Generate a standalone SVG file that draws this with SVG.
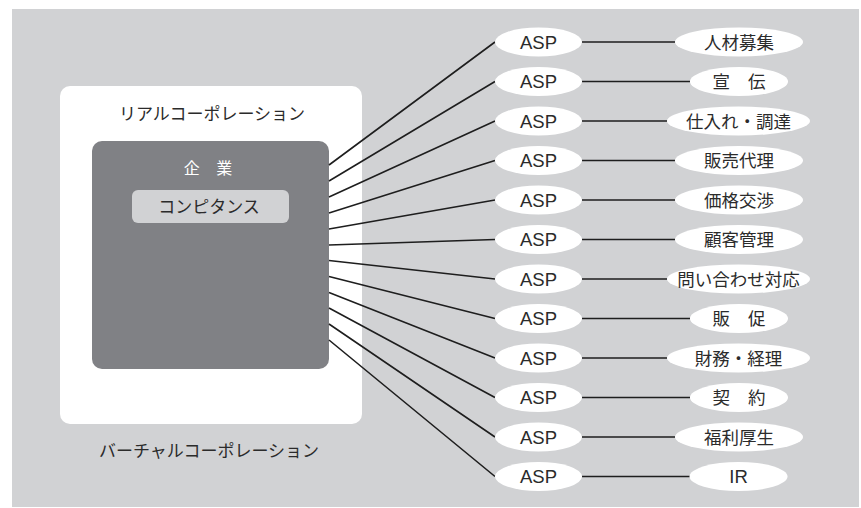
<svg xmlns="http://www.w3.org/2000/svg" width="861" height="508" viewBox="0 0 861 508">
<style>
.t{font-family:"Noto Sans CJK JP","Noto Sans",sans-serif;fill:#2b2b2b;text-anchor:middle}
.asp{font-family:"Liberation Sans",Arial,sans-serif;font-size:18.5px;fill:#2b2b2b;text-anchor:middle}
.lbl{font-size:17.5px}
.ov{fill:#ffffff}
.ln{stroke:#1e1e1e;stroke-width:1.6;fill:none}
</style>
<rect x="12" y="9" width="847" height="498" fill="#d1d2d4"/>
<g id="virtual">
<rect x="60" y="86" width="302" height="338" rx="10" fill="#ffffff"/>
<text class="t" x="212" y="120" font-size="17">リアルコーポレーション</text>
<text class="t" x="209" y="457" font-size="17">バーチャルコーポレーション</text>
</g>
<g id="kigyo">
<rect x="92" y="141" width="237" height="228" rx="10" fill="#808185"/>
<text class="t" x="208" y="174" font-size="16" style="fill:#ffffff" word-spacing="13">企 業</text>
</g>
<g id="competence">
<rect x="132" y="190" width="157" height="33" rx="6" fill="#d1d2d4"/>
<text class="t" x="209" y="213" font-size="17">コンピタンス</text>
</g>
<g id="connectors">
<path class="ln" d="M329 165L495 42M329 181L495 81.5M329 197L495 121M329 213L495 160.5M329 229L495 200M329 245L495 239.5M329 260.5L495 279M329 276.5L495 318.5M329 292.5L495 358M329 308L495 397.5M329 324L495 437M329 340L495 476.5"/>
<path class="ln" d="M582 42H675M582 81.5H690M582 121H667M582 160.5H675M582 200H675M582 239.5H675M582 279H667M582 318.5H690M582 358H667M582 397.5H690M582 437H675M582 476.5H690"/>
</g>
<g id="asp">
<g id="asp1"><ellipse class="ov" cx="538.5" cy="42" rx="43.5" ry="14.5"/><text class="asp" x="538.5" y="48.5">ASP</text></g>
<g id="asp2"><ellipse class="ov" cx="538.5" cy="81.5" rx="43.5" ry="14.5"/><text class="asp" x="538.5" y="88">ASP</text></g>
<g id="asp3"><ellipse class="ov" cx="538.5" cy="121" rx="43.5" ry="14.5"/><text class="asp" x="538.5" y="127.5">ASP</text></g>
<g id="asp4"><ellipse class="ov" cx="538.5" cy="160.5" rx="43.5" ry="14.5"/><text class="asp" x="538.5" y="167">ASP</text></g>
<g id="asp5"><ellipse class="ov" cx="538.5" cy="200" rx="43.5" ry="14.5"/><text class="asp" x="538.5" y="206.5">ASP</text></g>
<g id="asp6"><ellipse class="ov" cx="538.5" cy="239.5" rx="43.5" ry="14.5"/><text class="asp" x="538.5" y="246">ASP</text></g>
<g id="asp7"><ellipse class="ov" cx="538.5" cy="279" rx="43.5" ry="14.5"/><text class="asp" x="538.5" y="285.5">ASP</text></g>
<g id="asp8"><ellipse class="ov" cx="538.5" cy="318.5" rx="43.5" ry="14.5"/><text class="asp" x="538.5" y="325">ASP</text></g>
<g id="asp9"><ellipse class="ov" cx="538.5" cy="358" rx="43.5" ry="14.5"/><text class="asp" x="538.5" y="364.5">ASP</text></g>
<g id="asp10"><ellipse class="ov" cx="538.5" cy="397.5" rx="43.5" ry="14.5"/><text class="asp" x="538.5" y="404">ASP</text></g>
<g id="asp11"><ellipse class="ov" cx="538.5" cy="437" rx="43.5" ry="14.5"/><text class="asp" x="538.5" y="443.5">ASP</text></g>
<g id="asp12"><ellipse class="ov" cx="538.5" cy="476.5" rx="43.5" ry="14.5"/><text class="asp" x="538.5" y="483">ASP</text></g>
</g>
<g id="functions">
<g id="f1"><ellipse class="ov" cx="739" cy="42" rx="64" ry="14.5"/><text class="t lbl" x="739" y="48.5">人材募集</text></g>
<g id="f2"><ellipse class="ov" cx="739" cy="81.5" rx="49" ry="14.5"/><text class="t lbl" x="739" y="88" word-spacing="14">宣 伝</text></g>
<g id="f3"><ellipse class="ov" cx="738.5" cy="121" rx="71.5" ry="14.5"/><text class="t lbl" x="738.5" y="127.5">仕入れ・調達</text></g>
<g id="f4"><ellipse class="ov" cx="739" cy="160.5" rx="64" ry="14.5"/><text class="t lbl" x="739" y="167">販売代理</text></g>
<g id="f5"><ellipse class="ov" cx="739" cy="200" rx="64" ry="14.5"/><text class="t lbl" x="739" y="206.5">価格交渉</text></g>
<g id="f6"><ellipse class="ov" cx="739" cy="239.5" rx="64" ry="14.5"/><text class="t lbl" x="739" y="246">顧客管理</text></g>
<g id="f7"><ellipse class="ov" cx="738.5" cy="279" rx="71.5" ry="14.5"/><text class="t lbl" x="738.5" y="285.5">問い合わせ対応</text></g>
<g id="f8"><ellipse class="ov" cx="739" cy="318.5" rx="49" ry="14.5"/><text class="t lbl" x="739" y="325" word-spacing="14">販 促</text></g>
<g id="f9"><ellipse class="ov" cx="738.5" cy="358" rx="71.5" ry="14.5"/><text class="t lbl" x="738.5" y="364.5">財務・経理</text></g>
<g id="f10"><ellipse class="ov" cx="739" cy="397.5" rx="49" ry="14.5"/><text class="t lbl" x="739" y="404" word-spacing="14">契 約</text></g>
<g id="f11"><ellipse class="ov" cx="739" cy="437" rx="64" ry="14.5"/><text class="t lbl" x="739" y="443.5">福利厚生</text></g>
<g id="f12"><ellipse class="ov" cx="738.5" cy="476.5" rx="49" ry="14.5"/><text class="asp" x="738.5" y="483">IR</text></g>
</g>
</svg>
